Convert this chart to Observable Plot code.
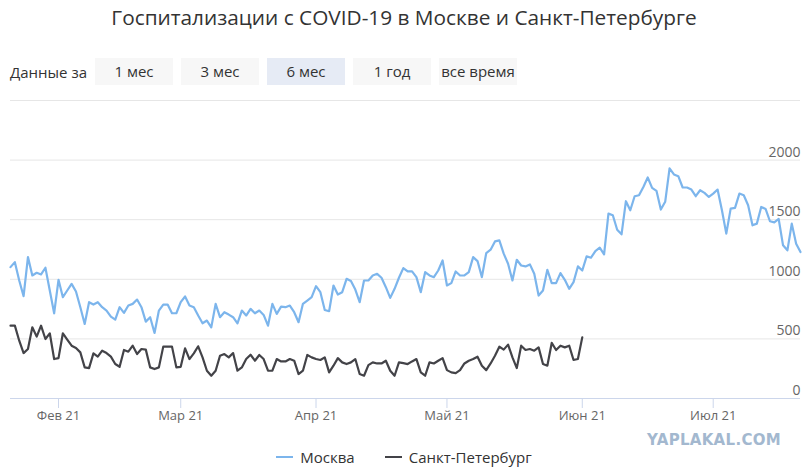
<!DOCTYPE html>
<html>
<head>
<meta charset="utf-8">
<script src="https://cdn.jsdelivr.net/npm/d3@7"></script>
<script src="https://cdn.jsdelivr.net/npm/@observablehq/plot@0.6"></script>
<style>
  html, body { margin:0; padding:0; background:#fff; }
  body { width:808px; height:474px; position:relative; overflow:hidden; font-family:"Open Sans", sans-serif; }
  #title { position:absolute; top:3px; left:0; width:808px; text-align:center; font-size:20.8px; color:#333; }
  #range { position:absolute; top:58px; left:10px; height:27px; display:flex; align-items:center; font-size:15px; color:#333; }
  #range .lbl { width:85px; }
  #range .btn { width:78px; height:27px; line-height:27px; margin-right:8px; text-align:center; background:#f7f7f7; }
  #range .btn.sel { background:#e6ebf5; }
  #chart { position:absolute; top:90px; left:0; }
  #legend { position:absolute; top:447px; left:0; width:808px; display:flex; justify-content:center; font-size:15px; color:#333; }
  #legend .item { display:flex; align-items:center; margin:0 15px; }
  #legend .sw { width:17px; height:2px; margin-right:7px; }
  #wm { position:absolute; top:431px; left:647px; font-family:"DejaVu Sans", sans-serif; font-weight:bold; font-size:15px; color:#a3b8cf; letter-spacing:0.3px; }
</style>
</head>
<body>
<div id="title">Госпитализации с COVID-19 в Москве и Санкт-Петербурге</div>
<div id="range"></div>
<div id="chart"></div>
<div id="wm">YAPLAKAL.COM</div>
<div id="legend"></div>
<script>
// ---- data ----
const startDate = "2021-01-21";
const moscow = [
  1102,1144,990,858,1186,1032,1055,1041,1097,906,
  715,996,850,906,962,898,766,625,808,788,
  808,766,738,687,662,766,718,780,794,830,
  766,645,682,550,738,788,788,715,715,808,
  856,780,766,696,631,654,597,794,682,724,
  704,682,631,738,696,752,715,738,701,611,
  794,710,771,766,780,724,640,794,822,850,
  942,892,743,732,948,872,892,1004,985,914,
  808,990,990,1032,1046,1013,934,844,920,1013,
  1094,1066,1066,1018,892,1060,1032,1018,1074,1158,
  948,968,1066,1032,1032,1060,1186,1153,1018,1220,
  1248,1318,1327,1215,1130,990,1164,1116,1108,1125,
  1046,864,906,1080,968,968,1052,996,920,976,
  1108,1074,1192,1181,1237,1265,1209,1551,1537,1416,
  1377,1655,1579,1697,1705,1775,1854,1767,1742,1585,
  1650,1930,1880,1865,1770,1770,1753,1697,1747,1725,
  1691,1719,1753,1579,1383,1593,1599,1719,1705,1621,
  1453,1467,1607,1590,1487,1478,1506,1285,1243,1467,
  1299,1229
];
const spb = [
  611,611,485,381,415,597,519,611,499,547,
  331,339,547,494,443,424,387,261,255,379,
  351,401,381,351,289,266,407,393,443,373,
  415,410,261,247,261,435,435,435,261,266,
  421,331,379,438,345,233,191,233,359,373,
  345,381,233,261,331,367,317,365,331,233,
  233,331,311,311,331,317,205,233,365,345,
  331,323,345,219,275,339,303,289,303,331,
  205,191,280,303,294,294,317,233,191,303,
  297,289,311,331,219,191,303,294,317,339,
  238,219,213,238,294,317,331,351,275,238,
  294,359,435,410,452,345,255,443,407,415,
  401,429,289,275,466,407,443,429,443,323,
  331,513
];
const seriesNames = ["Москва", "Санкт-Петербург"];
const seriesColors = ["#7cb5ec", "#434348"];
const monthTickDates = ["2021-02-01","2021-03-01","2021-04-01","2021-05-01","2021-06-01","2021-07-01"];
const monthTickLabels = ["Фев 21","Мар 21","Апр 21","Май 21","Июн 21","Июл 21"];
const yTicks = [0, 500, 1000, 1500, 2000];
const yGrid = [0, 500, 1000, 1500, 2000, 2500];
const rangeLabel = "Данные за";
const rangeButtons = ["1 мес", "3 мес", "6 мес", "1 год", "все время"];
const selectedButton = "6 мес";

// ---- build ----
const DAY = 864e5;
const t0 = new Date(startDate + "T00:00:00Z").getTime();
const toRows = (arr) => arr.map((v, i) => ({date: new Date(t0 + i * DAY), value: v}));
const mRows = toRows(moscow);
const sRows = toRows(spb);
const tickDates = monthTickDates.map(s => new Date(s + "T00:00:00Z"));
const xEnd = new Date(t0 + (moscow.length - 1) * DAY);

const range = document.getElementById("range");
const lbl = document.createElement("div"); lbl.className = "lbl"; lbl.textContent = rangeLabel; range.appendChild(lbl);
rangeButtons.forEach(b => {
  const el = document.createElement("div");
  el.className = "btn" + (b === selectedButton ? " sel" : "");
  el.textContent = b; range.appendChild(el);
});

const chart = Plot.plot({
  width: 808,
  height: 338,
  marginTop: 10,
  marginBottom: 30,
  marginLeft: 10,
  marginRight: 8,
  x: {type: "utc", domain: [new Date(t0), xEnd]},
  y: {domain: [0, 2500], axis: null},
  style: {fontFamily: "Open Sans, sans-serif", fontSize: "13px", color: "#666", background: "transparent", overflow: "visible"},
  marks: [
    Plot.ruleY(yGrid, {stroke: "#e6e6e6", strokeWidth: 1}),
    Plot.ruleY([0], {stroke: "#ccd6eb", strokeWidth: 1}),
    Plot.axisX({ticks: tickDates, tickSize: 10, tickPadding: 2, stroke: "#ccd6eb", fill: "#666", fontSize: 13,
      tickFormat: d => monthTickLabels[tickDates.findIndex(t => +t === +d)]}),
    Plot.text(yTicks, {y: d => d, text: d => String(d), frameAnchor: "right", textAnchor: "end", dy: -8, fill: "#666", fontSize: 14}),
    Plot.line(mRows, {x: "date", y: "value", stroke: seriesColors[0], strokeWidth: 2.2, strokeLinejoin: "round"}),
    Plot.line(sRows, {x: "date", y: "value", stroke: seriesColors[1], strokeWidth: 2.2, strokeLinejoin: "round"})
  ]
});
document.getElementById("chart").appendChild(chart);

const legend = document.getElementById("legend");
seriesNames.forEach((n, i) => {
  const it = document.createElement("div"); it.className = "item";
  const sw = document.createElement("div"); sw.className = "sw"; sw.style.background = seriesColors[i];
  const tx = document.createElement("span"); tx.textContent = n;
  it.appendChild(sw); it.appendChild(tx); legend.appendChild(it);
});
</script>
</body>
</html>
